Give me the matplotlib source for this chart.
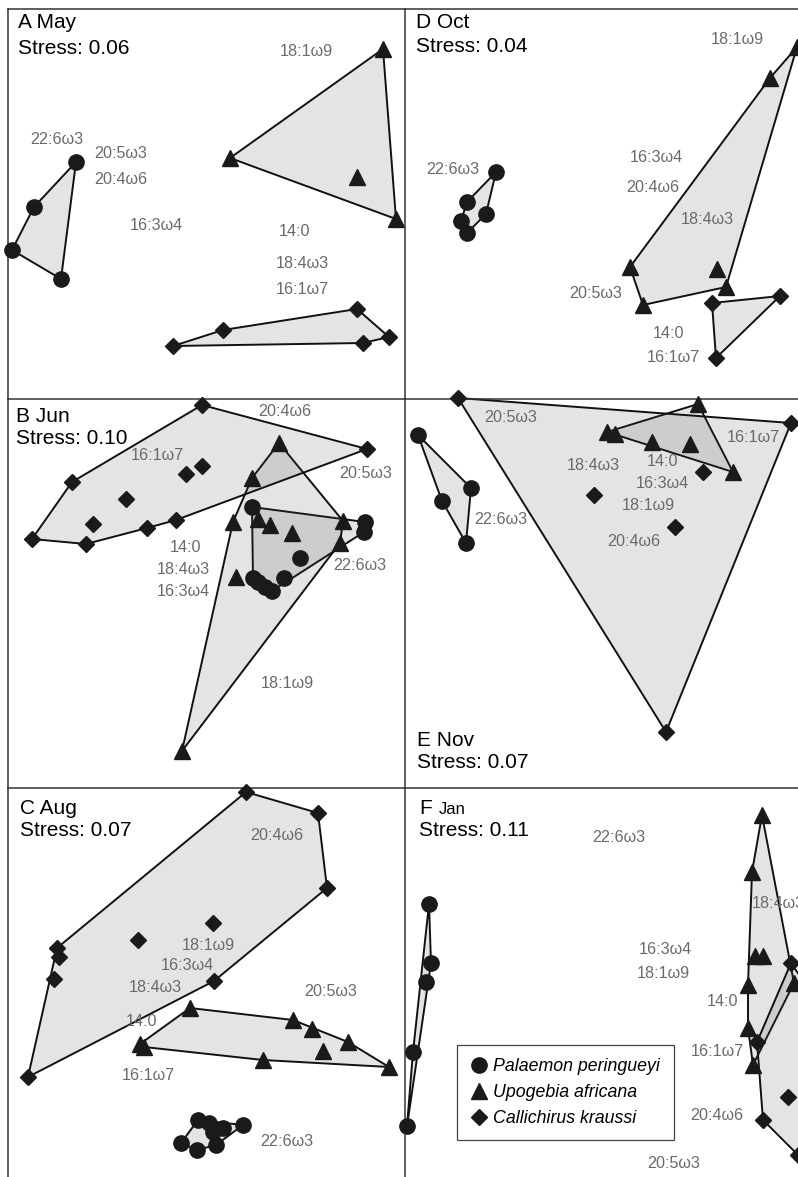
import numpy as np
import matplotlib.pyplot as plt
from matplotlib.patches import Polygon
from matplotlib.lines import Line2D

plt.rcParams['font.family'] = ['Liberation Sans', 'DejaVu Sans']

# MDS ordination coordinates per month (panel units, y downwards)
# circles = Palaemon, triangles = Upogebia, diamonds = Callichirus
may_circ = [(68, 153), (26, 198), (4, 241), (53, 270)]
may_tri = [(375, 40), (222, 149), (349, 168), (388, 210)]
may_dia = [(165, 337), (215, 321), (349, 300), (381, 328), (355, 334)]
may_labels = [("22:6ω3", 49, 131), ("20:5ω3", 113, 145), ("20:4ω6", 113, 170),
              ("16:3ω4", 148, 217), ("18:1ω9", 298, 42), ("14:0", 286, 223),
              ("18:4ω3", 294, 254), ("16:1ω7", 294, 280)]

jun_circ = [(244, 108), (357, 123), (356, 133), (292, 159), (276, 179),
            (245, 179), (250, 183), (257, 188), (264, 192)]
jun_tri = [(271, 44), (244, 79), (225, 123), (250, 120), (262, 126),
           (284, 134), (335, 122), (332, 144), (228, 178), (174, 352)]
jun_dia = [(194, 6), (359, 50), (24, 140), (64, 83), (78, 145), (139, 129),
           (168, 121), (178, 75), (194, 67), (118, 100), (85, 125)]
jun_labels = [("20:4ω6", 277, 13), ("16:1ω7", 149, 57), ("20:5ω3", 358, 74),
              ("14:0", 177, 148), ("18:4ω3", 175, 170), ("16:3ω4", 175, 193),
              ("22:6ω3", 352, 166), ("18:1ω9", 279, 285)]

aug_circ = [(190, 332), (201, 335), (205, 344), (215, 340), (235, 337),
            (173, 355), (189, 362), (208, 357)]
aug_tri = [(182, 220), (285, 232), (304, 241), (340, 254), (315, 263),
           (381, 279), (255, 272), (132, 256), (136, 259)]
aug_dia = [(238, 4), (310, 25), (319, 100), (205, 135), (130, 152),
           (49, 160), (51, 169), (46, 191), (206, 193), (20, 289)]
aug_labels = [("20:4ω6", 269, 47), ("18:1ω9", 200, 158), ("16:3ω4", 179, 177),
              ("18:4ω3", 147, 200), ("20:5ω3", 323, 204), ("14:0", 133, 234),
              ("16:1ω7", 140, 287), ("22:6ω3", 279, 354)]

oct_circ = [(91, 163), (62, 193), (81, 205), (56, 212), (62, 224)]
oct_tri = [(392, 38), (365, 69), (225, 258), (238, 296), (312, 260), (321, 278)]
oct_dia = [(307, 294), (375, 287), (311, 349)]
oct_labels = [("18:1ω9", 332, 30), ("16:3ω4", 251, 149), ("20:4ω6", 248, 179),
              ("18:4ω3", 302, 211), ("20:5ω3", 191, 285), ("22:6ω3", 48, 160),
              ("14:0", 264, 324), ("16:1ω7", 268, 349)]

nov_circ = [(13, 36), (66, 89), (37, 102), (61, 144)]
nov_tri = [(293, 5), (202, 33), (210, 35), (247, 43), (285, 45), (328, 73)]
nov_dia = [(53, -1), (386, 24), (261, 333), (298, 73), (189, 96), (270, 128)]
nov_labels = [("20:5ω3", 106, 18), ("16:1ω7", 348, 38), ("18:4ω3", 188, 66),
              ("14:0", 258, 63), ("16:3ω4", 257, 85), ("18:1ω9", 243, 106),
              ("20:4ω6", 229, 143), ("22:6ω3", 96, 121)]

jan_circ = [(24, 116), (26, 175), (21, 194), (8, 264), (2, 338)]
jan_tri = [(357, 27), (347, 84), (350, 168), (358, 168), (343, 197),
           (343, 240), (348, 277), (389, 195)]
jan_dia = [(386, 175), (352, 254), (383, 309), (358, 332), (393, 367), (425, 232)]
jan_labels = [("22:6ω3", 214, 49), ("16:3ω4", 260, 162), ("18:1ω9", 258, 186),
              ("14:0", 317, 214), ("16:1ω7", 312, 264), ("20:4ω6", 312, 327),
              ("20:5ω3", 269, 375)]

species = ["Palaemon peringueyi", "Upogebia africana", "Callichirus kraussi"]
markers = ["o", "^", "D"]
msizes = [11, 11, 8]

W, H = 798, 1177
fig = plt.figure(figsize=(W / 100, H / 100), dpi=100)


def hull(pts):
    pts = sorted(set(pts))
    if len(pts) < 3:
        return pts

    def cross(o, a, b):
        return (a[0] - o[0]) * (b[1] - o[1]) - (a[1] - o[1]) * (b[0] - o[0])
    lower, upper = [], []
    for p in pts:
        while len(lower) >= 2 and cross(lower[-2], lower[-1], p) <= 0:
            lower.pop()
        lower.append(p)
    for p in reversed(pts):
        while len(upper) >= 2 and cross(upper[-2], upper[-1], p) <= 0:
            upper.pop()
        upper.append(p)
    return lower[:-1] + upper[:-1]


def panel(x0, y0, x1, y1):
    ax = fig.add_axes([x0 / W, 1 - y1 / H, (x1 - x0) / W, (y1 - y0) / H])
    ax.set_xlim(0, x1 - x0)
    ax.set_ylim(y1 - y0, 0)
    ax.set_xticks([])
    ax.set_yticks([])
    for s in ("right", "bottom"):
        ax.spines[s].set_visible(False)
    for s in ("left", "top"):
        ax.spines[s].set_linewidth(1.1)
        ax.spines[s].set_color("#333333")
    ax.patch.set_alpha(0)
    return ax


def draw(ax, groups, labels):
    for pts, m, ms in zip(groups, markers, msizes):
        h = hull(pts)
        ax.add_patch(Polygon(h, closed=True, facecolor=(0.3, 0.3, 0.33, 0.15),
                             edgecolor="#111111", lw=1.4, zorder=2, clip_on=False))
        xs, ys = zip(*pts)
        ax.plot(xs, ys, m, ms=ms, color="#1a1a1a", mec="#1a1a1a",
                ls="none", zorder=3, clip_on=False)
    for t, x, y in labels:
        ax.text(x, y, t, fontsize=11.6, color="#6a6a6a", ha="center",
                va="center", zorder=4, clip_on=False)


def title(ax, x, y, letter, month, stress, dy=22, small=False):
    if small:
        ax.text(x, y, letter, fontsize=15, va="center", ha="left")
        ax.text(x + 20, y + 1, month, fontsize=12, va="center", ha="left")
    else:
        ax.text(x, y, f"{letter} {month}", fontsize=15, va="center", ha="left")
    ax.text(x, y + dy, f"Stress: {stress}", fontsize=15, va="center", ha="left")


axA = panel(8, 9, 405, 399)
draw(axA, [may_circ, may_tri, may_dia], may_labels)
title(axA, 10, 14, "A", "May", "0.06", dy=25)

axB = panel(8, 399, 405, 788)
draw(axB, [jun_circ, jun_tri, jun_dia], jun_labels)
title(axB, 8, 18, "B", "Jun", "0.10")

axC = panel(8, 788, 405, 1177)
draw(axC, [aug_circ, aug_tri, aug_dia], aug_labels)
title(axC, 12, 20, "C", "Aug", "0.07")

axD = panel(405, 9, 798, 399)
draw(axD, [oct_circ, oct_tri, oct_dia], oct_labels)
title(axD, 11, 14, "D", "Oct", "0.04", dy=24)

axE = panel(405, 399, 798, 788)
draw(axE, [nov_circ, nov_tri, nov_dia], nov_labels)
title(axE, 12, 342, "E", "Nov", "0.07", dy=21)

axF = panel(405, 788, 798, 1177)
draw(axF, [jan_circ, jan_tri, jan_dia], jan_labels)
title(axF, 14, 20, "F", "Jan", "0.11", dy=23, small=True)
# this label runs past the right edge of the panel
axF.text(347, 115, "18:4ω3", fontsize=11.6, color="#6a6a6a", ha="left",
         va="center", zorder=4)

handles = [Line2D([], [], marker=m, ms=ms, color="#1a1a1a", ls="none")
           for m, ms in zip(markers, msizes)]
leg = axF.legend(handles, species, loc="upper left",
                 bbox_to_anchor=(52 / 393, 1 - 257 / 389),
                 prop={"style": "italic", "size": 12.8},
                 fancybox=False, edgecolor="#444444", framealpha=1,
                 handletextpad=0.3, handlelength=1.0, labelspacing=0.5,
                 borderpad=0.75, borderaxespad=0)
leg.get_frame().set_linewidth(0.9)

fig.savefig("out.png", dpi=100)
